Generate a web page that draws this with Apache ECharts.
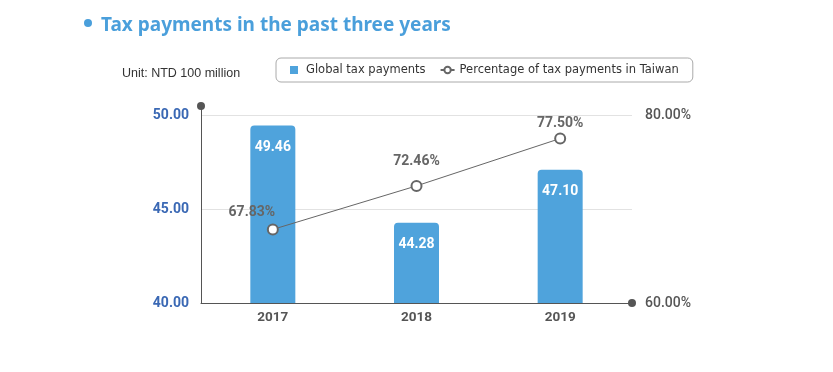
<!DOCTYPE html>
<html>
<head>
<meta charset="utf-8">
<script src="https://cdn.jsdelivr.net/npm/echarts@6/dist/echarts.min.js"></script>
<style>
html,body{margin:0;padding:0;background:#fff;}
#chart{width:833px;height:372px;}
</style>
</head>
<body>
<div id="chart"></div>
<script>
var categories = ['2017', '2018', '2019'];
var globalTax = [49.46, 44.28, 47.10];
var taiwanPct = [67.83, 72.46, 77.50];
var leftTicks = [40, 45, 50];
var rightTicks = [60, 80];
var titleText = 'Tax payments in the past three years';
var unitText = 'Unit: NTD 100 million';
var seriesNames = ['Global tax payments', 'Percentage of tax payments in Taiwan'];

var chart = echarts.init(document.getElementById('chart'));
var lineLabelCfg = [
  { position: 'top', distance: 0, offset: [-21, -4] },
  { position: 'top', distance: 11 },
  { position: 'top', distance: 2 }
];
var option = {
  backgroundColor: '#fff',
  animation: false,
  title: [
    {
      text: titleText,
      left: 96, top: 11,
      textStyle: { color: '#4a9fdb', fontSize: 19, fontWeight: 'bold', fontFamily: 'Noto Sans' }
    },
    {
      text: unitText,
      left: 117, top: 62,
      textStyle: { color: '#333', fontSize: 12.5, fontWeight: 'normal', fontFamily: 'Liberation Sans' }
    }
  ],
  graphic: [
    { type: 'circle', shape: { cx: 88, cy: 23, r: 4 }, style: { fill: '#4a9fdb' } }
  ],
  legend: {
    left: 276, top: 58,
    padding: [6, 14],
    itemGap: 14,
    itemWidth: 14, itemHeight: 8,
    borderColor: '#aaa', borderWidth: 1, borderRadius: 5,
    textStyle: { color: '#333', fontSize: 11.5, fontFamily: 'DejaVu Sans' },
    data: [
      { name: seriesNames[0], icon: 'path://M0,0h8v8h-8z' },
      { name: seriesNames[1] }
    ]
  },
  grid: { left: 201, right: 201, top: 106, bottom: 69, containLabel: false },
  xAxis: {
    type: 'category',
    data: categories,
    axisLine: { show: true, symbol: ['none', 'circle'], symbolSize: [8, 8], lineStyle: { color: '#555', width: 1 } },
    axisTick: { show: false },
    axisLabel: { color: '#555', fontSize: 13.5, fontWeight: 'bold', margin: 8, fontFamily: 'Roboto' }
  },
  yAxis: [
    {
      type: 'value',
      min: 40, max: 50.5, interval: 5,
      axisLine: { show: true, symbol: ['none', 'circle'], symbolSize: [8, 8], lineStyle: { color: '#555', width: 1 } },
      axisTick: { show: false },
      axisLabel: {
        showMaxLabel: false,
        color: '#3a68b4', fontSize: 14, fontWeight: 'bold', margin: 12, fontFamily: 'Roboto',
        formatter: function (v) { return leftTicks.indexOf(v) >= 0 ? v.toFixed(2) : ''; }
      },
      splitLine: { show: true, showMaxLine: false, showMinLine: false, lineStyle: { color: '#e2e2e2', width: 1 } }
    },
    {
      type: 'value',
      min: 60, max: 80.96, interval: 20,
      axisLine: { show: false },
      axisTick: { show: false },
      axisLabel: {
        showMaxLabel: false,
        color: '#555', fontSize: 14, fontWeight: 500, margin: 13, fontFamily: 'Roboto',
        formatter: function (v) { return rightTicks.indexOf(v) >= 0 ? v.toFixed(2) + '%' : ''; }
      },
      splitLine: { show: false }
    }
  ],
  series: [
    {
      name: seriesNames[0],
      type: 'bar',
      data: globalTax,
      barWidth: 45,
      itemStyle: { color: '#4fa3dc', borderRadius: [4, 4, 0, 0] },
      label: {
        show: true, position: 'insideTop', distance: 15,
        color: '#fff', fontSize: 14, fontWeight: 'bold', fontFamily: 'Roboto',
        formatter: function (p) { return p.value.toFixed(2); }
      },
      z: 2
    },
    {
      name: seriesNames[1],
      type: 'line',
      yAxisIndex: 1,
      data: taiwanPct.map(function (v, i) { return { value: v, label: lineLabelCfg[i] }; }),
      symbol: 'emptyCircle',
      symbolSize: 10,
      lineStyle: { color: '#666', width: 1 },
      itemStyle: { color: '#666', borderColor: '#666', borderWidth: 1 },
      label: {
        show: true,
        color: '#666', fontSize: 14, fontWeight: 'bold', fontFamily: 'Roboto',
        formatter: function (p) { return p.value.toFixed(2) + '%'; }
      },
      z: 3
    }
  ]
};
chart.setOption(option);
</script>
</body>
</html>
